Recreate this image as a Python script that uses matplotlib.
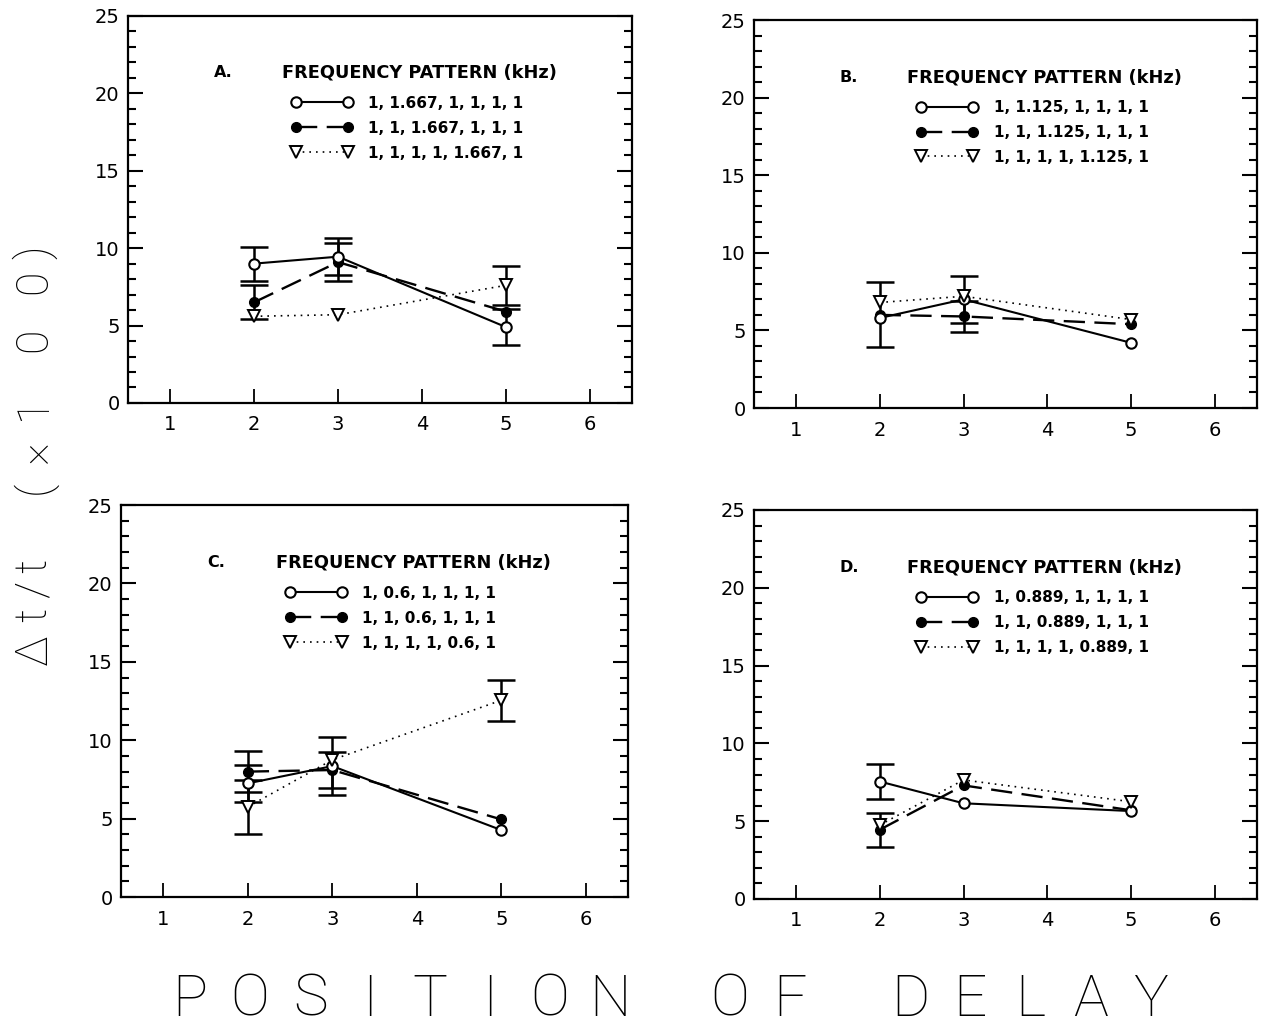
import matplotlib
matplotlib.use("Agg")
import matplotlib.pyplot as plt
import numpy as np
from matplotlib.ticker import MultipleLocator

# delay positions used in every panel
positions = [2, 3, 5]

# panel letters and the changed frequency in each panel
panel_names = ["A.", "B.", "C.", "D."]
panel_freqs = ["1.667", "1.125", "0.6", "0.889"]

# delta t / t (x 100); one list per panel
open_vals = [[9.0, 9.45, 4.9], [5.8, 7.0, 4.2], [7.25, 8.35, 4.27], [7.55, 6.15, 5.65]]
open_err = [[1.1, 1.2, 1.15], [0.0, 1.5, 0.0], [1.2, 1.85, 0.0], [1.1, 0.0, 0.0]]

filled_vals = [[6.5, 9.1, 5.9], [6.0, 5.9, 5.4], [8.0, 8.1, 4.95], [4.45, 7.3, 5.7]]
filled_err = [[1.1, 1.25, 0.0], [2.1, 1.0, 0.0], [1.3, 1.15, 0.0], [1.1, 0.0, 0.0]]

tri_vals = [[5.6, 5.7, 7.6], [6.8, 7.2, 5.7], [5.75, 8.75, 12.55], [4.75, 7.65, 6.25]]
tri_err = [[0.0, 0.0, 1.25], [0.0, 0.0, 0.0], [1.7, 0.0, 1.3], [0.0, 0.0, 0.0]]

x_ticks = [1, 2, 3, 4, 5, 6]
y_ticks = [0, 5, 10, 15, 20, 25]

legend_title = "FREQUENCY PATTERN (kHz)"
y_label = ["\u0394", "t", "/", "t", "(", "\u00d7", "1", "0", "0", ")"]
x_label = "POSITION OF DELAY"


def legend_labels(freq):
    return ["1, %s, 1, 1, 1, 1" % freq,
            "1, 1, %s, 1, 1, 1" % freq,
            "1, 1, 1, 1, %s, 1" % freq]


def draw_panel(ax, k):
    eb = dict(fmt="none", ecolor="k", elinewidth=1.8, capsize=10, capthick=1.8, zorder=2)
    for vals, errs in [(open_vals[k], open_err[k]), (filled_vals[k], filled_err[k]),
                       (tri_vals[k], tri_err[k])]:
        e = np.array(errs)
        keep = e > 0
        if keep.any():
            ax.errorbar(np.array(positions)[keep], np.array(vals)[keep], yerr=e[keep], **eb)

    l1, = ax.plot(positions, open_vals[k], "-", color="k", lw=1.5, marker="o", ms=7.5,
                  mfc="white", mec="k", mew=1.5, zorder=4)
    l2, = ax.plot(positions, filled_vals[k], color="k", lw=1.7, ls=(0, (9, 4)), marker="o",
                  ms=7, mfc="k", mec="k", zorder=3)
    l3, = ax.plot(positions, tri_vals[k], color="k", lw=1.2, ls=(0, (1, 3)), marker="v",
                  ms=8, mfc="white", mec="k", mew=1.4, zorder=5)

    ax.set_xlim(0.5, 6.5)
    ax.set_ylim(0, 25)
    ax.set_xticks(x_ticks)
    ax.set_yticks(y_ticks)
    ax.yaxis.set_minor_locator(MultipleLocator(1))
    ax.tick_params(axis="y", which="both", direction="in", left=True, right=True,
                   width=1.5, labelsize=14, pad=6)
    ax.tick_params(axis="y", which="major", length=11)
    ax.tick_params(axis="y", which="minor", length=6)
    ax.tick_params(axis="x", direction="in", length=10, width=1.3, top=False,
                   labelsize=14, pad=9)
    for s in ax.spines.values():
        s.set_linewidth(1.6)

    ax.text(0.17, 0.853, panel_names[k], transform=ax.transAxes, fontsize=11.5,
            fontweight="bold", va="center", ha="left")
    ax.text(0.305, 0.853, legend_title, transform=ax.transAxes, fontsize=12.8,
            fontweight="bold", va="center", ha="left")
    ax.legend([l1, l2, l3], legend_labels(panel_freqs[k]), loc="upper left",
              bbox_to_anchor=(0.324, 0.794), frameon=False, numpoints=2,
              handlelength=4.0, handletextpad=1.05, labelspacing=0.65,
              borderpad=0, borderaxespad=0, prop=dict(size=11, weight="bold"))


fig = plt.figure(figsize=(12.65, 10.28), dpi=100)
rects = [[0.1012, 0.608, 0.3984, 0.3765],
         [0.596, 0.6031, 0.3976, 0.3774],
         [0.0957, 0.1274, 0.4008, 0.3813],
         [0.596, 0.1255, 0.3976, 0.3784]]
for k in range(4):
    ax = fig.add_axes(rects[k])
    draw_panel(ax, k)

# big axis labels, set letter by letter like the original lettering
y_label_pos = [650, 615, 590, 566, 487, 452, 408, 340, 282, 252]
for ch, yp in zip(y_label, y_label_pos):
    fig.text(0.027, 1 - yp / 1028, ch, rotation=90, fontsize=32, family=["Roboto", "DejaVu Sans"],
             fontweight="light", ha="center", va="center")

for i, ch in enumerate(x_label):
    if ch != " ":
        fig.text((190 + 60 * i) / 1265, 0.027, ch, fontsize=42, family=["Roboto", "DejaVu Sans"],
                 fontweight="light", ha="center", va="center")

fig.savefig("out.png", dpi=100, facecolor="white")
